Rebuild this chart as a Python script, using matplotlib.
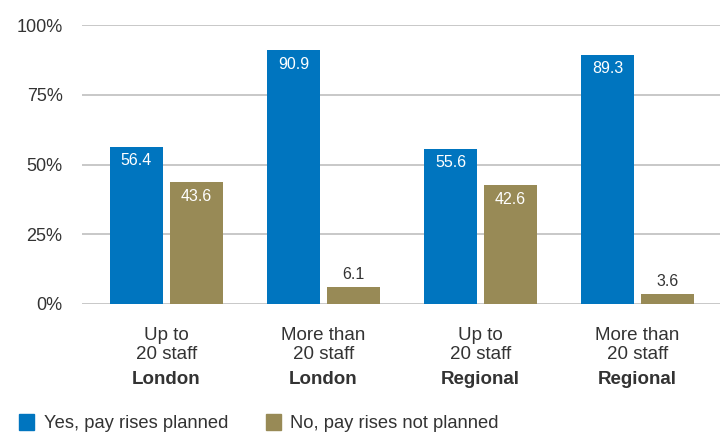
import numpy as np
import matplotlib
matplotlib.use("Agg")
import matplotlib.pyplot as plt
from matplotlib.patches import Rectangle
import matplotlib.transforms as transforms

plt.rcParams['font.family'] = ['Liberation Sans', 'DejaVu Sans']

# data
size_labels = ["Up to\n20 staff", "More than\n20 staff", "Up to\n20 staff", "More than\n20 staff"]
region_labels = ["London", "London", "Regional", "Regional"]
yes_vals = [56.4, 90.9, 55.6, 89.3]
no_vals = [43.6, 6.1, 42.6, 3.6]
series_names = ["Yes, pay rises planned", "No, pay rises not planned"]
y_ticks = [0, 25, 50, 75, 100]

blue = '#0075BF'
olive = '#988A56'
text_dark = '#333333'

fig = plt.figure(figsize=(7.2, 4.32), dpi=100)
ax = fig.add_axes([82 / 720, 128 / 432, 638 / 720, 279 / 432])

x = np.arange(len(yes_vals))
w = 0.338
off = 0.191
b1 = ax.bar(x - off, yes_vals, w, color=blue, zorder=3)
b2 = ax.bar(x + off, no_vals, w, color=olive, zorder=3)

ax.set_xlim(-0.538, 3.525)
ax.set_ylim(0, 100)
ax.set_yticks(y_ticks)
ax.set_yticklabels([f"{t}%" for t in y_ticks], fontsize=13, color=text_dark)
ax.tick_params(axis='y', length=0, pad=14)
ax.set_xticks([])
for s in ax.spines.values():
    s.set_visible(False)
ax.grid(axis='y', color='#c8c8c8', linewidth=1.4, zorder=0)
ax.set_axisbelow(True)

# value labels: inside the bar when tall, above it when short
for bars in (b1, b2):
    for r in bars:
        h = r.get_height()
        cx = r.get_x() + r.get_width() / 2
        if h > 15:
            ax.annotate(f"{h:.1f}", (cx, h), xytext=(0, -10), textcoords='offset points',
                        ha='center', va='center', fontsize=11.5, color='white', zorder=4)
        else:
            ax.annotate(f"{h:.1f}", (cx, h), xytext=(0, 9), textcoords='offset points',
                        ha='center', va='center', fontsize=11.5, color=text_dark, zorder=4)

# category labels
trans = transforms.blended_transform_factory(ax.transData, fig.transFigure)
for i in range(len(size_labels)):
    ax.text(x[i], 1 - 345 / 432, size_labels[i], transform=trans, ha='center', va='center',
            fontsize=13.5, color=text_dark, linespacing=1.2)
    ax.text(x[i], 1 - 379 / 432, region_labels[i], transform=trans, ha='center', va='center',
            fontsize=13.5, color=text_dark, fontweight='bold')

# legend
for (lx, tx), name, col in zip([(19, 44), (266, 290)], series_names, [blue, olive]):
    fig.patches.append(Rectangle((lx / 720, 1 - 430 / 432), 15 / 720, 16 / 432,
                                 transform=fig.transFigure, color=col))
    fig.text(tx / 720, 1 - 423 / 432, name, ha='left', va='center', fontsize=13.2,
             color=text_dark)

fig.savefig("out.png", dpi=100)
